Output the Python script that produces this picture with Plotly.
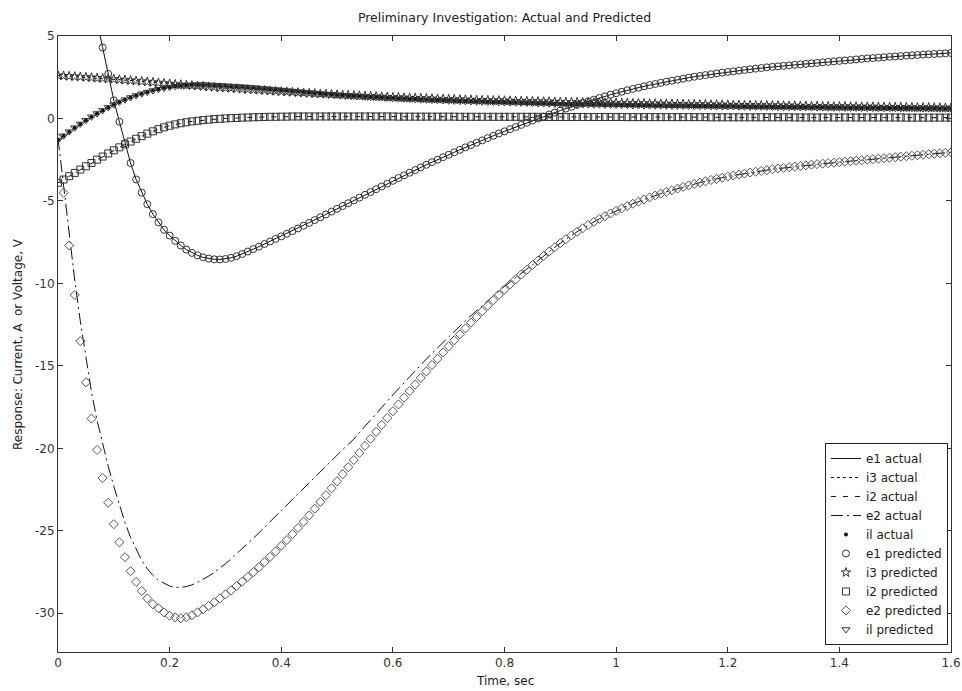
import plotly.graph_objects as go

# ---------------- data ----------------
time_s = [
    0.0, 0.01, 0.02, 0.03, 0.04, 0.05, 0.06, 0.07, 0.08, 0.09,
    0.1, 0.11, 0.12, 0.13, 0.14, 0.15, 0.16, 0.17, 0.18, 0.19,
    0.2, 0.21, 0.22, 0.23, 0.24, 0.25, 0.26, 0.27, 0.28, 0.29,
    0.3, 0.31, 0.32, 0.33, 0.34, 0.35, 0.36, 0.37, 0.38, 0.39,
    0.4, 0.41, 0.42, 0.43, 0.44, 0.45, 0.46, 0.47, 0.48, 0.49,
    0.5, 0.51, 0.52, 0.53, 0.54, 0.55, 0.56, 0.57, 0.58, 0.59,
    0.6, 0.61, 0.62, 0.63, 0.64, 0.65, 0.66, 0.67, 0.68, 0.69,
    0.7, 0.71, 0.72, 0.73, 0.74, 0.75, 0.76, 0.77, 0.78, 0.79,
    0.8, 0.81, 0.82, 0.83, 0.84, 0.85, 0.86, 0.87, 0.88, 0.89,
    0.9, 0.91, 0.92, 0.93, 0.94, 0.95, 0.96, 0.97, 0.98, 0.99,
    1.0, 1.01, 1.02, 1.03, 1.04, 1.05, 1.06, 1.07, 1.08, 1.09,
    1.1, 1.11, 1.12, 1.13, 1.14, 1.15, 1.16, 1.17, 1.18, 1.19,
    1.2, 1.21, 1.22, 1.23, 1.24, 1.25, 1.26, 1.27, 1.28, 1.29,
    1.3, 1.31, 1.32, 1.33, 1.34, 1.35, 1.36, 1.37, 1.38, 1.39,
    1.4, 1.41, 1.42, 1.43, 1.44, 1.45, 1.46, 1.47, 1.48, 1.49,
    1.5, 1.51, 1.52, 1.53, 1.54, 1.55, 1.56, 1.57, 1.58, 1.59,
    1.6,
]

e1_values = [
    15.3, 14.2, 13.0, 11.7, 10.3, 8.9, 7.4, 5.9, 4.3, 2.7,
    1.1, -0.2, -1.5, -2.7, -3.7, -4.5, -5.2, -5.8, -6.3, -6.75,
    -7.1, -7.42, -7.7, -7.95, -8.15, -8.3, -8.42, -8.5, -8.54, -8.55,
    -8.52, -8.45, -8.35, -8.22, -8.07, -7.92, -7.77, -7.61, -7.46, -7.3,
    -7.15, -6.99, -6.83, -6.67, -6.5, -6.33, -6.16, -5.99, -5.82, -5.65,
    -5.48, -5.31, -5.14, -4.97, -4.8, -4.63, -4.46, -4.29, -4.12, -3.95,
    -3.78, -3.61, -3.45, -3.29, -3.13, -2.97, -2.81, -2.65, -2.5, -2.35,
    -2.2, -2.05, -1.9, -1.75, -1.61, -1.47, -1.33, -1.19, -1.05, -0.91,
    -0.78, -0.65, -0.52, -0.39, -0.26, -0.13, 0.0, 0.12, 0.24, 0.36,
    0.48, 0.6, 0.71, 0.82, 0.93, 1.04, 1.14, 1.24, 1.34, 1.44,
    1.53, 1.62, 1.71, 1.79, 1.87, 1.95, 2.02, 2.09, 2.16, 2.23,
    2.29, 2.35, 2.41, 2.47, 2.53, 2.58, 2.63, 2.68, 2.73, 2.78,
    2.82, 2.86, 2.9, 2.94, 2.98, 3.02, 3.06, 3.1, 3.13, 3.16,
    3.19, 3.22, 3.25, 3.28, 3.31, 3.34, 3.37, 3.4, 3.43, 3.46,
    3.49, 3.52, 3.55, 3.58, 3.61, 3.64, 3.66, 3.69, 3.71, 3.74,
    3.76, 3.78, 3.81, 3.83, 3.85, 3.87, 3.89, 3.91, 3.93, 3.95,
    3.97,
]

i3_values = [
    2.6, 2.58, 2.56, 2.54, 2.52, 2.5, 2.48, 2.45, 2.43, 2.4,
    2.38, 2.35, 2.33, 2.3, 2.28, 2.25, 2.22, 2.19, 2.16, 2.13,
    2.1, 2.07, 2.05, 2.02, 2.0, 1.97, 1.95, 1.92, 1.9, 1.87,
    1.85, 1.83, 1.81, 1.78, 1.76, 1.74, 1.72, 1.7, 1.67, 1.65,
    1.63, 1.61, 1.59, 1.57, 1.55, 1.53, 1.51, 1.49, 1.48, 1.46,
    1.44, 1.42, 1.41, 1.39, 1.38, 1.36, 1.35, 1.33, 1.32, 1.3,
    1.29, 1.28, 1.26, 1.25, 1.24, 1.23, 1.22, 1.2, 1.19, 1.18,
    1.17, 1.16, 1.15, 1.14, 1.13, 1.12, 1.11, 1.1, 1.09, 1.09,
    1.08, 1.07, 1.06, 1.06, 1.05, 1.04, 1.03, 1.02, 1.02, 1.01,
    1.0, 0.99, 0.99, 0.98, 0.98, 0.97, 0.96, 0.96, 0.95, 0.95,
    0.94, 0.93, 0.93, 0.92, 0.92, 0.91, 0.9, 0.9, 0.89, 0.89,
    0.88, 0.87, 0.87, 0.86, 0.86, 0.85, 0.85, 0.84, 0.84, 0.83,
    0.83, 0.82, 0.82, 0.81, 0.81, 0.8, 0.8, 0.79, 0.79, 0.78,
    0.78, 0.77, 0.77, 0.76, 0.76, 0.75, 0.75, 0.74, 0.74, 0.73,
    0.73, 0.73, 0.72, 0.72, 0.71, 0.71, 0.71, 0.7, 0.7, 0.69,
    0.69, 0.69, 0.68, 0.68, 0.67, 0.67, 0.67, 0.66, 0.66, 0.65,
    0.65,
]

i2_values = [
    -3.9, -3.7, -3.5, -3.3, -3.1, -2.9, -2.7, -2.5, -2.31, -2.12,
    -1.93, -1.75, -1.57, -1.4, -1.23, -1.07, -0.92, -0.78, -0.65, -0.54,
    -0.44, -0.36, -0.29, -0.23, -0.18, -0.14, -0.1, -0.07, -0.04, -0.02,
    0.0, 0.02, 0.03, 0.05, 0.06, 0.07, 0.08, 0.09, 0.1, 0.1,
    0.11, 0.11, 0.12, 0.12, 0.12, 0.12, 0.12, 0.12, 0.12, 0.12,
    0.12, 0.12, 0.12, 0.12, 0.12, 0.12, 0.12, 0.12, 0.12, 0.12,
    0.12, 0.11, 0.11, 0.11, 0.11, 0.11, 0.11, 0.11, 0.11, 0.11,
    0.11, 0.11, 0.1, 0.1, 0.1, 0.1, 0.1, 0.1, 0.1, 0.1,
    0.1, 0.1, 0.1, 0.1, 0.1, 0.1, 0.1, 0.09, 0.09, 0.09,
    0.09, 0.09, 0.09, 0.09, 0.09, 0.09, 0.09, 0.09, 0.09, 0.09,
    0.09, 0.09, 0.08, 0.08, 0.08, 0.08, 0.08, 0.08, 0.08, 0.08,
    0.08, 0.08, 0.08, 0.08, 0.08, 0.08, 0.08, 0.07, 0.07, 0.07,
    0.07, 0.07, 0.07, 0.07, 0.07, 0.07, 0.07, 0.07, 0.07, 0.07,
    0.07, 0.07, 0.06, 0.06, 0.06, 0.06, 0.06, 0.06, 0.06, 0.06,
    0.06, 0.06, 0.06, 0.06, 0.06, 0.06, 0.06, 0.06, 0.06, 0.06,
    0.06, 0.06, 0.05, 0.05, 0.05, 0.05, 0.05, 0.05, 0.05, 0.05,
    0.05,
]

e2_actual = [
    -1.2, -4.2, -7.1, -9.8, -12.3, -14.6, -16.6, -18.3, -19.8, -21.1,
    -22.3, -23.45, -24.5, -25.4, -26.15, -26.8, -27.3, -27.7, -28.0, -28.2,
    -28.35, -28.43, -28.44, -28.38, -28.28, -28.12, -27.95, -27.75, -27.52, -27.27,
    -27.0, -26.71, -26.41, -26.1, -25.78, -25.45, -25.12, -24.78, -24.44, -24.1,
    -23.76, -23.42, -23.08, -22.74, -22.4, -22.06, -21.73, -21.4, -21.07, -20.74,
    -20.41, -20.08, -19.76, -19.44, -19.05, -18.66, -18.27, -17.89, -17.51, -17.13,
    -16.76, -16.39, -16.02, -15.66, -15.3, -14.94, -14.59, -14.24, -13.9, -13.56,
    -13.23, -12.9, -12.58, -12.26, -11.95, -11.64, -11.34, -11.04, -10.75, -10.46,
    -10.18, -9.91, -9.65, -9.39, -9.13, -8.89, -8.61, -8.34, -8.07, -7.81,
    -7.56, -7.32, -7.09, -6.87, -6.66, -6.46, -6.27, -6.09, -5.92, -5.76,
    -5.6, -5.45, -5.31, -5.17, -5.04, -4.91, -4.79, -4.67, -4.56, -4.45,
    -4.35, -4.25, -4.15, -4.06, -3.97, -3.89, -3.81, -3.73, -3.66, -3.59,
    -3.52, -3.46, -3.4, -3.34, -3.28, -3.23, -3.18, -3.13, -3.08, -3.04,
    -3.0, -2.96, -2.92, -2.88, -2.84, -2.8, -2.77, -2.74, -2.71, -2.68,
    -2.65, -2.62, -2.59, -2.56, -2.53, -2.5, -2.47, -2.44, -2.41, -2.38,
    -2.35, -2.32, -2.29, -2.26, -2.23, -2.2, -2.17, -2.14, -2.11, -2.08,
    -2.05,
]

e2_predicted = [
    -1.2, -4.5, -7.7, -10.7, -13.5, -16.0, -18.2, -20.1, -21.8, -23.3,
    -24.6, -25.7, -26.6, -27.45, -28.1, -28.65, -29.1, -29.45, -29.7, -29.95,
    -30.15, -30.25, -30.3, -30.25, -30.12, -29.95, -29.76, -29.56, -29.34, -29.1,
    -28.86, -28.61, -28.35, -28.08, -27.8, -27.51, -27.21, -26.9, -26.58, -26.25,
    -25.91, -25.56, -25.2, -24.83, -24.45, -24.06, -23.66, -23.25, -22.84, -22.42,
    -22.0, -21.57, -21.14, -20.71, -20.28, -19.85, -19.42, -19.0, -18.58, -18.16,
    -17.75, -17.34, -16.93, -16.53, -16.13, -15.73, -15.34, -14.95, -14.57, -14.19,
    -13.82, -13.45, -13.09, -12.73, -12.38, -12.03, -11.69, -11.35, -11.02, -10.69,
    -10.37, -10.06, -9.76, -9.46, -9.17, -8.89, -8.61, -8.34, -8.07, -7.81,
    -7.56, -7.32, -7.09, -6.87, -6.66, -6.46, -6.27, -6.09, -5.92, -5.76,
    -5.6, -5.45, -5.31, -5.17, -5.04, -4.91, -4.79, -4.67, -4.56, -4.45,
    -4.35, -4.25, -4.15, -4.06, -3.97, -3.89, -3.81, -3.73, -3.66, -3.59,
    -3.52, -3.46, -3.4, -3.34, -3.28, -3.23, -3.18, -3.13, -3.08, -3.04,
    -3.0, -2.96, -2.92, -2.88, -2.84, -2.8, -2.77, -2.74, -2.71, -2.68,
    -2.65, -2.62, -2.59, -2.56, -2.53, -2.5, -2.47, -2.44, -2.41, -2.38,
    -2.35, -2.32, -2.29, -2.26, -2.23, -2.2, -2.17, -2.14, -2.11, -2.08,
    -2.05,
]

il_values = [
    -1.3, -1.05, -0.8, -0.56, -0.33, -0.11, 0.1, 0.3, 0.49, 0.67,
    0.84, 1.0, 1.14, 1.27, 1.39, 1.5, 1.6, 1.69, 1.77, 1.84,
    1.9, 1.95, 1.99, 2.02, 2.04, 2.05, 2.05, 2.04, 2.02, 2.0,
    1.98, 1.96, 1.94, 1.92, 1.9, 1.87, 1.84, 1.81, 1.78, 1.75,
    1.72, 1.69, 1.66, 1.63, 1.6, 1.57, 1.54, 1.51, 1.48, 1.46,
    1.43, 1.41, 1.38, 1.36, 1.34, 1.32, 1.3, 1.28, 1.26, 1.24,
    1.22, 1.2, 1.19, 1.17, 1.16, 1.14, 1.13, 1.11, 1.1, 1.09,
    1.07, 1.06, 1.05, 1.04, 1.03, 1.02, 1.01, 1.0, 0.99, 0.98,
    0.97, 0.96, 0.95, 0.94, 0.93, 0.92, 0.91, 0.9, 0.89, 0.88,
    0.87, 0.86, 0.86, 0.85, 0.84, 0.84, 0.83, 0.83, 0.82, 0.82,
    0.81, 0.8, 0.8, 0.79, 0.79, 0.78, 0.78, 0.77, 0.77, 0.76,
    0.76, 0.76, 0.75, 0.75, 0.74, 0.74, 0.74, 0.73, 0.73, 0.72,
    0.72, 0.72, 0.71, 0.71, 0.7, 0.7, 0.7, 0.69, 0.69, 0.68,
    0.68, 0.68, 0.67, 0.67, 0.67, 0.66, 0.66, 0.66, 0.65, 0.65,
    0.65, 0.64, 0.64, 0.64, 0.63, 0.63, 0.63, 0.62, 0.62, 0.62,
    0.62, 0.61, 0.61, 0.61, 0.6, 0.6, 0.6, 0.6, 0.59, 0.59,
    0.59,
]

x_tick_values = [0, 0.2, 0.4, 0.6, 0.8, 1.0, 1.2, 1.4, 1.6]
x_tick_labels = ["0", "0.2", "0.4", "0.6", "0.8", "1", "1.2", "1.4", "1.6"]
y_tick_values = [-30, -25, -20, -15, -10, -5, 0, 5]
y_tick_labels = ["-30", "-25", "-20", "-15", "-10", "-5", "0", "5"]

# ---------------- figure ----------------
INK = "#111111"
MK = "#333333"
FONT = "DejaVu Sans, Liberation Sans, Arial, sans-serif"

fig = go.Figure()

# actual responses (lines)
fig.add_trace(go.Scatter(x=time_s, y=e1_values, mode="lines", name="e1 actual",
                         line=dict(color=INK, width=1)))
fig.add_trace(go.Scatter(x=time_s, y=i3_values, mode="lines", name="i3 actual",
                         line=dict(color=INK, width=1, dash="3px,3px")))
fig.add_trace(go.Scatter(x=time_s, y=i2_values, mode="lines", name="i2 actual",
                         line=dict(color=INK, width=1, dash="5px,7px")))
fig.add_trace(go.Scatter(x=time_s, y=e2_actual, mode="lines", name="e2 actual",
                         line=dict(color=INK, width=1, dash="12px,4px,2px,4px")))
fig.add_trace(go.Scatter(x=time_s, y=il_values, mode="markers", name="il actual",
                         marker=dict(symbol="circle", size=4, color=INK)))

# predicted responses (markers)
fig.add_trace(go.Scatter(x=time_s, y=e1_values, mode="markers", name="e1 predicted",
                         marker=dict(symbol="circle-open", size=7, color=MK,
                                     line=dict(width=1, color=MK))))
fig.add_trace(go.Scatter(x=time_s, y=i3_values, mode="markers", name="i3 predicted",
                         marker=dict(symbol="star-open", size=7, color=MK,
                                     line=dict(width=1, color=MK))))
fig.add_trace(go.Scatter(x=time_s, y=i2_values, mode="markers", name="i2 predicted",
                         marker=dict(symbol="square-open", size=7, color=MK,
                                     line=dict(width=1, color=MK))))
fig.add_trace(go.Scatter(x=time_s, y=e2_predicted, mode="markers", name="e2 predicted",
                         marker=dict(symbol="diamond-open", size=7, color="#555555",
                                     line=dict(width=1, color="#555555"))))
fig.add_trace(go.Scatter(x=time_s, y=il_values, mode="markers", name="il predicted",
                         marker=dict(symbol="triangle-down-open", size=7, color=MK,
                                     line=dict(width=1, color=MK))))

axis_common = dict(
    showline=True, linecolor="#333333", linewidth=1, mirror="ticks",
    ticks="inside", ticklen=5, tickcolor="#333333", tickwidth=1,
    showgrid=False, zeroline=False, automargin=False,
    tickfont=dict(size=12, color="#333333"),
)

fig.update_layout(
    width=962, height=691,
    margin=dict(l=58, r=11, t=36, b=39, autoexpand=False),
    paper_bgcolor="white", plot_bgcolor="white",
    font=dict(family=FONT, size=12, color="#222222"),
    title=dict(text="Preliminary Investigation: Actual and Predicted",
               x=0.5, xref="paper", xanchor="center",
               y=1 - 18 / 691, yref="container", yanchor="middle",
               font=dict(size=12.5, color="#222222")),
    showlegend=True,
    legend=dict(x=0.9966, y=0.0114, xanchor="right", yanchor="bottom",
                bordercolor="#222222", borderwidth=1, bgcolor="white",
                font=dict(size=12, color="#222222"), itemwidth=30,
                tracegroupgap=0),
    xaxis=dict(range=[0, 1.6], tickvals=x_tick_values, ticktext=x_tick_labels,
               **axis_common),
    yaxis=dict(range=[-32.35, 5], tickvals=y_tick_values, ticktext=y_tick_labels,
               **axis_common),
    annotations=[
        dict(text="Time, sec", xref="paper", yref="paper", x=0.5, y=0,
             xanchor="center", yanchor="middle", yshift=-29, showarrow=False,
             font=dict(size=12, color="#222222")),
        dict(text="Response: Current, A  or Voltage, V", xref="paper", yref="paper",
             x=0, y=0.5, xanchor="center", yanchor="middle", xshift=-40,
             textangle=-90, showarrow=False, font=dict(size=12, color="#222222")),
    ],
)

# remove the browser's default 8 px page margin so the 962x691 figure
# fills the window exactly; hide the interactive mode bar
fig.write_html(
    "out.html",
    config={"displayModeBar": False},
    post_script="document.body.style.margin='0';"
                "document.documentElement.style.overflow='hidden';",
)
